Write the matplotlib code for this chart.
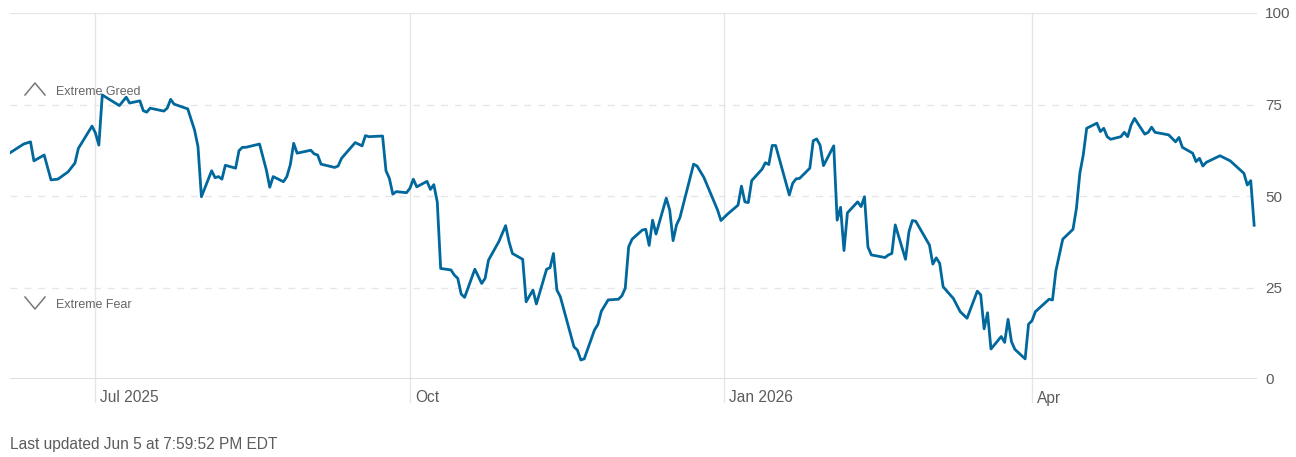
import matplotlib
matplotlib.use("Agg")
import matplotlib.pyplot as plt
import pandas as pd

plt.rcParams['font.family'] = ['Liberation Sans', 'DejaVu Sans']

# fear & greed index
dates = [
    "2025-06-06", "2025-06-10", "2025-06-12", "2025-06-13", "2025-06-16", "2025-06-18",
    "2025-06-20", "2025-06-23", "2025-06-25", "2025-06-26", "2025-06-30", "2025-07-01",
    "2025-07-02", "2025-07-03", "2025-07-08", "2025-07-10", "2025-07-11", "2025-07-14",
    "2025-07-15", "2025-07-16", "2025-07-17", "2025-07-21", "2025-07-22", "2025-07-23",
    "2025-07-24", "2025-07-28", "2025-07-30", "2025-07-31", "2025-08-01", "2025-08-04",
    "2025-08-05", "2025-08-06", "2025-08-07", "2025-08-08", "2025-08-11", "2025-08-12",
    "2025-08-13", "2025-08-14", "2025-08-18", "2025-08-20", "2025-08-21", "2025-08-22",
    "2025-08-25", "2025-08-26", "2025-08-27", "2025-08-28", "2025-08-29", "2025-09-02",
    "2025-09-03", "2025-09-04", "2025-09-05", "2025-09-09", "2025-09-10", "2025-09-11",
    "2025-09-15", "2025-09-17", "2025-09-18", "2025-09-19", "2025-09-23", "2025-09-24",
    "2025-09-25", "2025-09-26", "2025-09-27", "2025-09-30", "2025-10-01", "2025-10-02",
    "2025-10-03", "2025-10-06", "2025-10-07", "2025-10-08", "2025-10-09", "2025-10-10",
    "2025-10-13", "2025-10-14", "2025-10-15", "2025-10-16", "2025-10-17", "2025-10-20",
    "2025-10-22", "2025-10-23", "2025-10-24", "2025-10-27", "2025-10-29", "2025-10-30",
    "2025-10-31", "2025-11-03", "2025-11-04", "2025-11-05", "2025-11-06", "2025-11-07",
    "2025-11-10", "2025-11-11", "2025-11-12", "2025-11-13", "2025-11-14", "2025-11-18",
    "2025-11-19", "2025-11-20", "2025-11-21", "2025-11-24", "2025-11-25", "2025-11-26",
    "2025-11-28", "2025-12-01", "2025-12-02", "2025-12-03", "2025-12-04", "2025-12-05",
    "2025-12-08", "2025-12-09", "2025-12-10", "2025-12-11", "2025-12-12", "2025-12-15",
    "2025-12-16", "2025-12-17", "2025-12-18", "2025-12-19", "2025-12-23", "2025-12-24",
    "2025-12-26", "2025-12-30", "2025-12-31", "2026-01-02", "2026-01-05", "2026-01-06",
    "2026-01-07", "2026-01-08", "2026-01-09", "2026-01-12", "2026-01-13", "2026-01-14",
    "2026-01-15", "2026-01-16", "2026-01-20", "2026-01-21", "2026-01-22", "2026-01-23",
    "2026-01-26", "2026-01-27", "2026-01-28", "2026-01-29", "2026-01-30", "2026-02-02",
    "2026-02-03", "2026-02-04", "2026-02-05", "2026-02-06", "2026-02-09", "2026-02-10",
    "2026-02-11", "2026-02-12", "2026-02-13", "2026-02-17", "2026-02-18", "2026-02-19",
    "2026-02-20", "2026-02-23", "2026-02-24", "2026-02-25", "2026-02-26", "2026-03-02",
    "2026-03-03", "2026-03-04", "2026-03-05", "2026-03-06", "2026-03-09", "2026-03-11",
    "2026-03-13", "2026-03-16", "2026-03-17", "2026-03-18", "2026-03-19", "2026-03-20",
    "2026-03-23", "2026-03-24", "2026-03-25", "2026-03-26", "2026-03-27", "2026-03-30",
    "2026-03-31", "2026-04-01", "2026-04-02", "2026-04-06", "2026-04-07", "2026-04-08",
    "2026-04-10", "2026-04-13", "2026-04-14", "2026-04-15", "2026-04-16", "2026-04-17",
    "2026-04-20", "2026-04-21", "2026-04-22", "2026-04-23", "2026-04-24", "2026-04-27",
    "2026-04-28", "2026-04-29", "2026-04-30", "2026-05-01", "2026-05-04", "2026-05-05",
    "2026-05-06", "2026-05-07", "2026-05-11", "2026-05-13", "2026-05-14", "2026-05-15",
    "2026-05-18", "2026-05-19", "2026-05-20", "2026-05-21", "2026-05-22", "2026-05-26",
    "2026-05-29", "2026-06-02", "2026-06-03", "2026-06-04", "2026-06-05",
]
values = [
    61.8, 64.2, 64.8, 59.6, 61.2, 54.4,
    54.6, 56.6, 59.0, 63.0, 69.1, 67.2,
    63.9, 77.6, 74.7, 77.0, 75.4, 76.0,
    73.3, 72.9, 74.0, 73.2, 74.0, 76.4,
    75.1, 73.8, 68.0, 63.5, 49.8, 56.9,
    55.0, 55.3, 54.6, 58.4, 57.6, 62.4,
    63.3, 63.3, 64.2, 57.1, 52.4, 55.3,
    53.9, 55.3, 58.5, 64.4, 61.7, 62.5,
    61.5, 61.2, 58.7, 57.8, 58.2, 60.3,
    64.6, 63.7, 66.5, 66.2, 66.4, 56.9,
    54.8, 50.5, 51.2, 50.9, 52.1, 54.6,
    52.5, 54.0, 51.8, 53.1, 48.4, 30.2,
    29.8, 28.4, 27.5, 23.2, 22.3, 30.0,
    26.1, 27.5, 32.5, 37.5, 41.9, 37.5,
    34.3, 32.7, 21.1, 22.7, 24.3, 20.5,
    30.0, 30.4, 34.3, 24.3, 22.5, 8.8,
    7.9, 5.2, 5.5, 13.4, 14.9, 18.5,
    21.6, 21.8, 22.7, 24.8, 36.1, 38.2,
    40.7, 40.9, 36.5, 43.4, 39.6, 49.4,
    46.2, 37.8, 42.1, 44.1, 58.7, 58.2,
    55.1, 46.2, 43.3, 45.1, 47.5, 52.7,
    48.4, 48.2, 54.2, 57.3, 59.1, 58.6,
    63.8, 63.8, 50.3, 53.5, 54.7, 54.8,
    57.6, 65.1, 65.6, 63.9, 58.3, 63.7,
    43.4, 46.9, 35.1, 45.4, 48.4, 47.1,
    49.8, 36.1, 33.9, 33.2, 33.9, 34.3,
    42.1, 32.7, 40.2, 43.3, 43.1, 36.6,
    31.4, 33.1, 31.6, 25.2, 22.0, 18.4,
    16.6, 24.0, 23.0, 13.7, 18.1, 8.2,
    11.6, 10.0, 16.3, 10.2, 8.1, 5.5,
    15.0, 15.9, 18.4, 21.8, 21.6, 29.6,
    38.2, 40.9, 46.6, 56.2, 61.2, 68.5,
    69.9, 67.6, 68.5, 66.2, 65.5, 66.2,
    67.4, 66.2, 69.4, 71.2, 66.9, 67.4,
    68.8, 67.4, 66.7, 64.8, 66.0, 63.3,
    61.7, 59.4, 60.3, 58.2, 59.2, 61.0,
    59.6, 56.2, 53.0, 54.2, 42.0,
]

month_dates = ["2025-07-01", "2025-10-01", "2026-01-01", "2026-04-01"]
month_labels = ["Jul 2025", "Oct", "Jan 2026", "Apr"]
y_ticks = [0, 25, 50, 75, 100]

x = pd.to_datetime(dates)
months = pd.to_datetime(month_dates)

fig = plt.figure(figsize=(12.96, 4.57), dpi=100)
ax = fig.add_axes([10 / 1296, 1 - 379 / 457, 1247 / 1296, 366 / 457])

grid_c = '#e6e6e6'
text_c = '#5c5c5c'

for yv in [25, 50, 75]:
    ax.axhline(yv, color=grid_c, lw=1, ls=(0, (5, 5)), zorder=1)
ax.axhline(100, color=grid_c, lw=1, zorder=1)
ax.axhline(0, color='#dcdcdc', lw=2, zorder=2)

for m, lab in zip(months, month_labels):
    ax.axvline(m, ymin=-23 / 366, ymax=1, color=grid_c, lw=1, clip_on=False, zorder=1)
    ax.annotate(lab, xy=(m, 0), xycoords='data', xytext=(5, -19),
                textcoords='offset pixels', ha='left', va='center',
                fontsize=11.2, color=text_c, annotation_clip=False)

ax.plot(x, values, color='#00689c', lw=2.0, zorder=3, solid_joinstyle='round')

ax.set_ylim(0, 100)
ax.set_xlim(x[0], x[-1] + pd.Timedelta(hours=20))
ax.set_yticks(y_ticks)
ax.yaxis.tick_right()
ax.tick_params(axis='y', length=0, pad=6, labelsize=11, labelcolor=text_c)
ax.set_xticks([])
for s in ax.spines.values():
    s.set_visible(False)

# zone markers
ax.plot([15 / 1247, 25 / 1247, 35 / 1247], [284 / 366, 296 / 366, 284 / 366],
        transform=ax.transAxes, color='#777777', lw=1.1, clip_on=False)
ax.text(46 / 1247, 287 / 366, "Extreme Greed", transform=ax.transAxes,
        fontsize=9, color='#666666', va='center', ha='left')
ax.plot([15 / 1247, 25 / 1247, 35 / 1247], [82 / 366, 70 / 366, 82 / 366],
        transform=ax.transAxes, color='#777777', lw=1.1, clip_on=False)
ax.text(46 / 1247, 74 / 366, "Extreme Fear", transform=ax.transAxes,
        fontsize=9, color='#666666', va='center', ha='left')

fig.text(10 / 1296, 1 - 445 / 457, "Last updated Jun 5 at 7:59:52 PM EDT",
         fontsize=11.2, color=text_c, ha='left', va='center')

fig.savefig('out.png', dpi=100)
